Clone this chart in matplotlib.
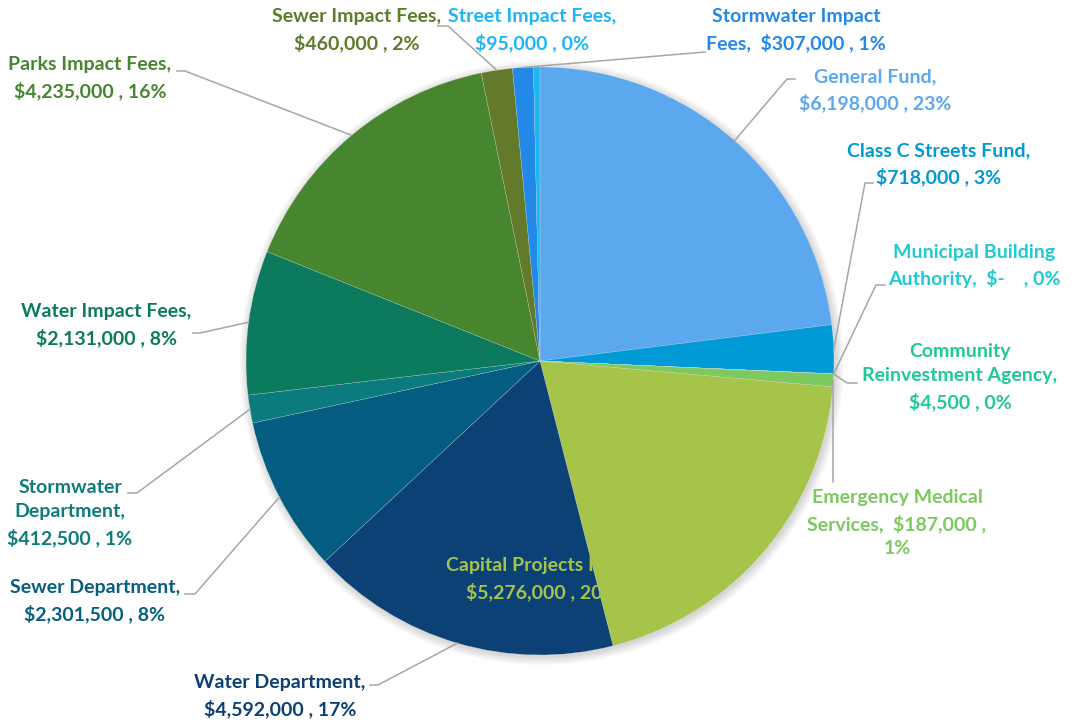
import numpy as np
import matplotlib
matplotlib.use("Agg")
import matplotlib.pyplot as plt
from matplotlib.patches import Circle

categories = [
    "General Fund", "Class C Streets Fund", "Municipal Building Authority",
    "Community Reinvestment Agency", "Emergency Medical Services",
    "Capital Projects Fund", "Water Department", "Sewer Department",
    "Stormwater Department", "Water Impact Fees", "Parks Impact Fees",
    "Sewer Impact Fees", "Stormwater Impact Fees", "Street Impact Fees",
]
values = [6198000, 718000, 0, 4500, 187000, 5276000, 4592000, 2301500,
          412500, 2131000, 4235000, 460000, 307000, 95000]
label_texts = [
    "General Fund,\n$6,198,000 , 23%",
    "Class C Streets Fund,\n$718,000 , 3%",
    "Municipal Building\nAuthority,  $-    , 0%",
    "Community\nReinvestment Agency,\n$4,500 , 0%",
    "Emergency Medical\nServices,  $187,000 ,\n1%",
    "Capital Projects Fund,\n$5,276,000 , 20%",
    "Water Department,\n$4,592,000 , 17%",
    "Sewer Department,\n$2,301,500 , 8%",
    "Stormwater\nDepartment,\n$412,500 , 1%",
    "Water Impact Fees,\n$2,131,000 , 8%",
    "Parks Impact Fees,\n$4,235,000 , 16%",
    "Sewer Impact Fees,\n$460,000 , 2%",
    "Stormwater Impact\nFees,  $307,000 , 1%",
    "Street Impact Fees,\n$95,000 , 0%",
]
slice_colors = ["#5BA8EE", "#009AD6", "#22C5D5", "#1DC899", "#7BC95F",
                "#A6C34A", "#0B4175", "#045C80", "#0B7B7D", "#0C7A5D",
                "#47862E", "#637A2A", "#2389E8", "#1EB8F5"]
label_colors = ["#5BA8EE", "#0099D5", "#1ECAD3", "#1DC899", "#7BC95F",
                "#A6C34A", "#0C3F73", "#065E80", "#0E7C7B", "#0C7A5D",
                "#478530", "#5E7B2A", "#2389E6", "#1EB5F5"]

W, H = 1077, 723
fig = plt.figure(figsize=(W / 100, H / 100), dpi=100)
ax = fig.add_axes([0, 0, 1, 1])
ax.set_xlim(0, W)
ax.set_ylim(0, H)
ax.set_aspect("equal")
ax.axis("off")

def Y(y):
    return H - y

cx, cy, R = 540, Y(361), 294

# soft shadow
for i in range(8):
    ax.add_patch(Circle((cx + 1.5, cy - 2), R + 0.5 + i * 1.1, color="black",
                        alpha=0.018, lw=0, zorder=0))

wedges, _ = ax.pie(values, colors=slice_colors, startangle=90, counterclock=False,
                   center=(cx, cy), radius=R, frame=True,
                   wedgeprops=dict(linewidth=0.15, edgecolor="#e8e8e8"))
ax.set_xlim(0, W)
ax.set_ylim(0, H)
ax.axis("off")

# label layout: (text center x, text center y, elbow x, elbow y, elbow_dx)
layout = {
    "General Fund": (875, 90, 795, 79, -8),
    "Class C Streets Fund": (939, 164, 873, 183, -8),
    "Municipal Building Authority": (974, 266, 885, 285, -9),
    "Community Reinvestment Agency": (960, 377, 857, 383, -10),
    "Emergency Medical Services": (897, 523, None, None, 0),
    "Capital Projects Fund": (542, 579, None, None, 0),
    "Water Department": (280, 696, 370, 685, 8),
    "Sewer Department": (95, 601, 185, 594, 10),
    "Stormwater Department": (70, 513, 128, 493, 9),
    "Water Impact Fees": (106, 325, 193, 333, 7),
    "Parks Impact Fees": (90, 78, 177, 71, 8),
    "Sewer Impact Fees": (357, 30, 438, 26, 10),
    "Stormwater Impact Fees": (796, 30, 705, 52, 0),
    "Street Impact Fees": (532, 30, None, None, 0),
}

font = dict(family=["Lato", "DejaVu Sans"], fontweight="bold", fontsize=14)
for w, cat, txt, col in zip(wedges, categories, label_texts, label_colors):
    tx, ty, ex, ey, edx = layout[cat]
    ax.text(tx, Y(ty), txt, ha="center", va="center", color=col,
            linespacing=1.5, zorder=5, **font)
    mid = np.deg2rad((w.theta1 + w.theta2) / 2)
    px, py = cx + R * np.cos(mid), cy + R * np.sin(mid)
    if cat == "Emergency Medical Services":
        ax.plot([px, px], [Y(482), py], color="#A6A6A6", lw=1.1, zorder=4)
    elif ex is not None:
        ax.plot([ex, ex + edx, px], [Y(ey), Y(ey), py],
                color="#A6A6A6", lw=1.1, zorder=4)

fig.savefig("out.png", dpi=100)
